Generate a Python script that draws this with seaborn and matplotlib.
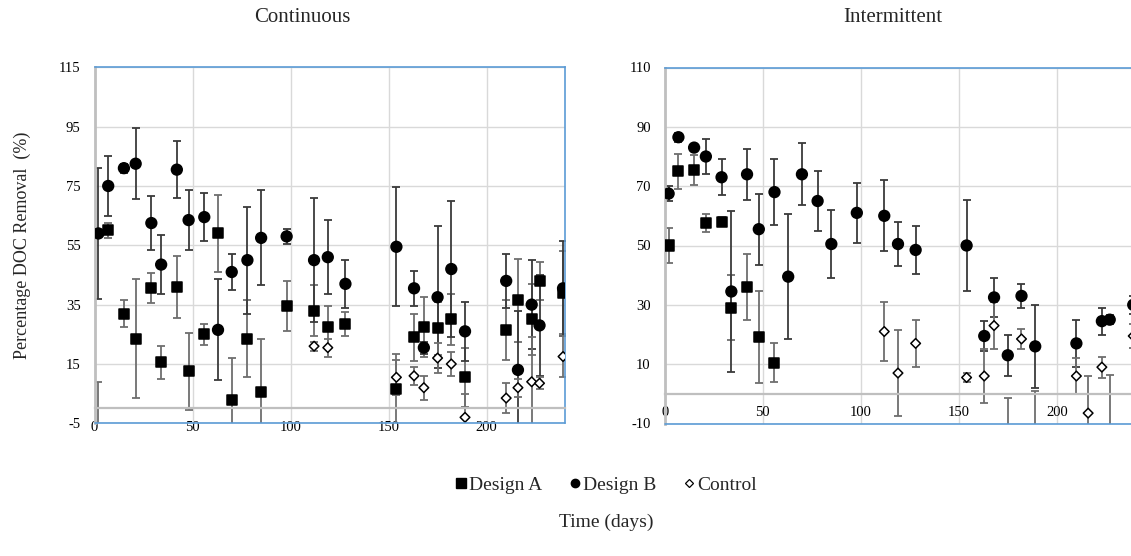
import pandas as pd
import seaborn as sns
import matplotlib.pyplot as plt
from matplotlib.lines import Line2D

# ---- data (days, % DOC removal, error) ----
days_cont = [2, 7, 15, 21, 29, 34, 42, 48, 56, 63, 70, 78, 85, 98, 112, 119, 128,
             154, 163, 168, 175, 182, 189, 210, 216, 223, 227, 239]
cont_a = [-12, 60, 32, 23.5, 40.5, 15.5, 41, 12.5, 25, 59, 3, 23.5, 5.5, 34.5, 33, 27.5, 28.5,
          6.5, 24, 27.5, 27, 30, 10.5, 26.5, 36.5, 30, 43, 39]
cont_a_err = [21, 2.5, 4.5, 20, 5, 5.5, 10.5, 13, 3.5, 13, 14, 13, 18, 8.5, 8.5, 7, 4,
              12, 8, 10, 9, 8.5, 10, 10, 14, 12, 6.5, 14]
cont_b = [59, 75, 81, 82.5, 62.5, 48.5, 80.5, 63.5, 64.5, 26.5, 46, 50, 57.5, 58, 50, 51, 42,
          54.5, 40.5, 20.5, 37.5, 47, 26, 43, 13, 35, 28, 40.5]
cont_b_err = [22, 10, 1.5, 12, 9, 10, 9.5, 10, 8, 17, 6, 18, 16, 2.5, 21, 12.5, 8,
              20, 6, 2, 24, 23, 10, 9, 20, 15, 17, 16]
days_cont_ctrl = [112, 119, 154, 163, 168, 175, 182, 189, 210, 216, 223, 227, 239]
cont_ctrl = [21, 20.5, 10.5, 11, 7, 17, 15, -3, 3.5, 7, 9, 8.5, 17.5]
cont_ctrl_err = [1.5, 3, 6, 3, 4, 5, 4, 8, 5, 3, 15, 2, 7]

days_int_a = [2, 7, 15, 21, 29, 34, 42, 48, 56]
int_a = [50, 75, 75.5, 57.5, 58, 29, 36, 19, 10.5]
int_a_err = [6, 6, 5, 3, 1.5, 11, 11, 15.5, 6.5]
days_int_b = [2, 7, 15, 21, 29, 34, 42, 48, 56, 63, 70, 78, 85, 98, 112, 119, 128,
              154, 163, 168, 175, 182, 189, 210, 223, 227, 239]
int_b = [67.5, 86.5, 83, 80, 73, 34.5, 74, 55.5, 68, 39.5, 74, 65, 50.5, 61, 60, 50.5, 48.5,
         50, 19.5, 32.5, 13, 33, 16, 17, 24.5, 25, 30]
int_b_err = [2.5, 1.5, 1, 6, 6, 27, 8.5, 12, 11, 21, 10.5, 10, 11.5, 10, 12, 7.5, 8,
             15.5, 5, 6.5, 7, 4, 14, 8, 4.5, 1.5, 3]
days_int_ctrl = [112, 119, 128, 154, 163, 168, 175, 182, 189, 210, 216, 223, 227, 239]
int_ctrl = [21, 7, 17, 5.5, 6, 23, -15, 18.5, -13, 6, -6.5, 9, -13, 19.5]
int_ctrl_err = [10, 14.5, 8, 1.5, 9, 8, 13.5, 3.5, 14, 6, 12.5, 3.5, 19.5, 4]

series = ['Design A', 'Design B', 'Control']


def make_df(parts):
    rows = []
    for name, d, v, e in parts:
        rows.append(pd.DataFrame({'day': d, 'removal': v, 'err': e, 'series': name}))
    return pd.concat(rows, ignore_index=True)


df_cont = make_df([('Design A', days_cont, cont_a, cont_a_err),
                   ('Design B', days_cont, cont_b, cont_b_err),
                   ('Control', days_cont_ctrl, cont_ctrl, cont_ctrl_err)])
df_int = make_df([('Design A', days_int_a, int_a, int_a_err),
                  ('Design B', days_int_b, int_b, int_b_err),
                  ('Control', days_int_ctrl, int_ctrl, int_ctrl_err)])

sns.set_theme(style='white')
plt.rcParams['font.family'] = ['Liberation Serif', 'DejaVu Serif']
plt.rcParams['axes.unicode_minus'] = False

W, H = 1131, 556
fig = plt.figure(figsize=(W / 100, H / 100), dpi=100)
ax1 = fig.add_axes([94.5 / W, 1 - 423.3 / H, 470.5 / W, 356 / H])
ax2 = fig.add_axes([664.7 / W, 1 - 423.5 / H, 470.5 / W, 356 / H])

markers = {'Design A': 's', 'Design B': 'o', 'Control': 'D'}
palette = {'Design A': 'black', 'Design B': 'black', 'Control': 'white'}
sizes = {'Design A': 52, 'Design B': 60, 'Control': 24}
bar_colors = {'Design A': '#6e6e6e', 'Design B': '#3a3a3a', 'Control': '#6e6e6e'}
blue = '#5B9BD5'

for ax, df, ylo, yhi in [(ax1, df_cont, -5, 115), (ax2, df_int, -10, 110)]:
    for s in series:
        sub = df[df['series'] == s]
        ax.errorbar(sub['day'], sub['removal'], yerr=sub['err'], fmt='none',
                    ecolor=bar_colors[s], elinewidth=1.3, capsize=3, capthick=1.3, zorder=2)
    sns.scatterplot(data=df, x='day', y='removal', hue='series', style='series',
                    size='series', markers=markers, palette=palette, sizes=sizes,
                    hue_order=series, style_order=series, size_order=series,
                    edgecolor='black', linewidth=1.1, legend=False, zorder=3, ax=ax)
    ax.set_xlim(0, 240)
    ax.set_ylim(ylo, yhi)
    ax.set_xticks([0, 50, 100, 150, 200])
    ax.set_yticks(range(ylo, yhi + 1, 20))
    ax.set_xlabel('')
    ax.set_ylabel('')
    ax.grid(True, color='#D9D9D9', linewidth=1)
    ax.set_axisbelow(True)
    # Excel-style category axis crossing at 0
    ax.spines['bottom'].set_position(('data', 0))
    ax.spines['bottom'].set_color('#BFBFBF')
    ax.spines['bottom'].set_linewidth(1.6)
    ax.spines['left'].set_color('#BFBFBF')
    ax.spines['left'].set_linewidth(2)
    for side in ['top', 'right']:
        ax.spines[side].set_color(blue)
        ax.spines[side].set_linewidth(1.2)
    ax.plot([0, 1], [0, 0], transform=ax.transAxes, color=blue, lw=1.2, clip_on=False, zorder=5)
    ax.tick_params(axis='x', length=0, pad=9, labelsize=10.5, colors='black')
    ax.tick_params(axis='y', length=0, pad=10, labelsize=10.5, colors='black')

fig.text(302 / W, 1 - 18 / H, 'Continuous', ha='center', va='center', fontsize=15)
fig.text(893 / W, 1 - 18 / H, 'Intermittent', ha='center', va='center', fontsize=15)
fig.text(22 / W, 1 - 245 / H, 'Percentage DOC Removal  (%)', rotation=90,
         ha='center', va='center', fontsize=13)
fig.text(606 / W, 1 - 522 / H, 'Time (days)', ha='center', va='center', fontsize=14)

handles = [Line2D([], [], ls='none', marker='s', ms=7, mfc='black', mec='black'),
           Line2D([], [], ls='none', marker='o', ms=6, mfc='black', mec='black'),
           Line2D([], [], ls='none', marker='D', ms=4.5, mfc='white', mec='black', mew=0.9)]
fig.legend(handles, series, loc='center', bbox_to_anchor=(606 / W, 1 - 485 / H),
           ncol=3, frameon=False, fontsize=14, handlelength=0.6, handletextpad=0.1,
           columnspacing=1.4)

fig.savefig('out.png', dpi=100)
